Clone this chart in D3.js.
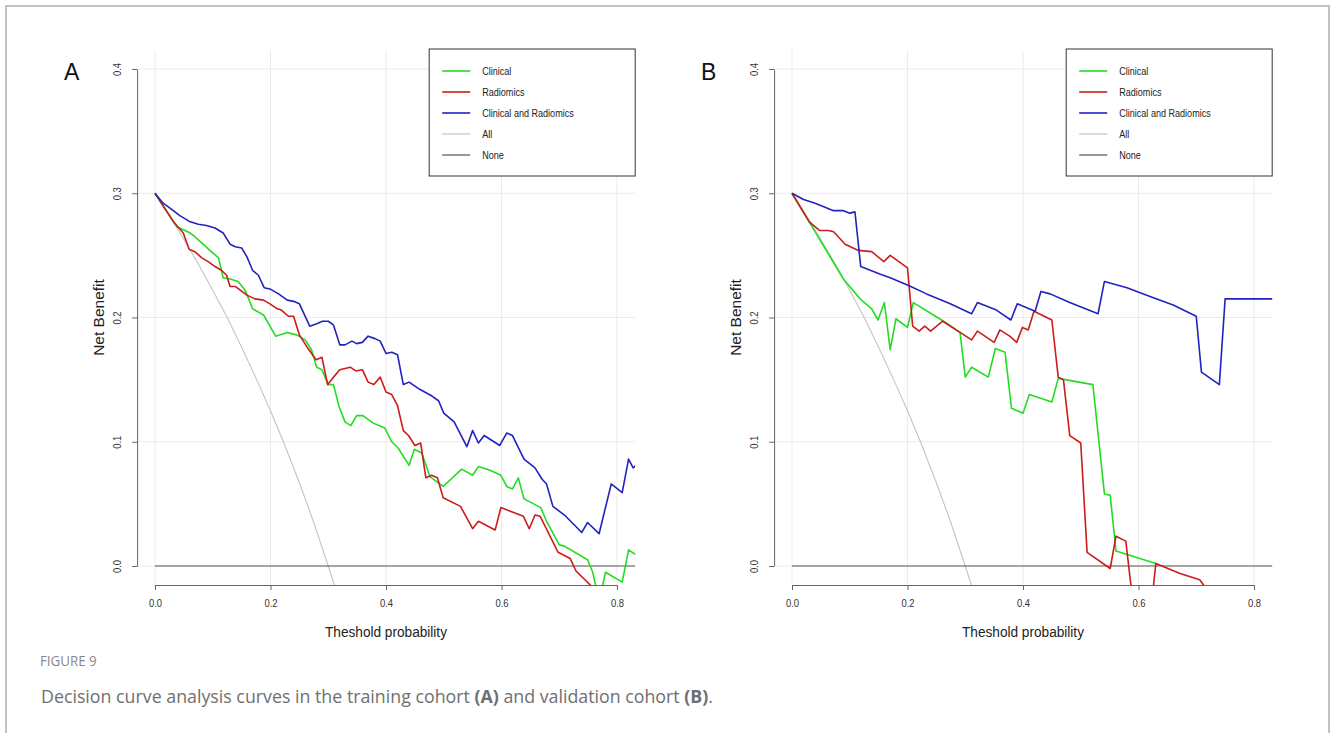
<!DOCTYPE html>
<html>
<head>
<meta charset="utf-8">
<script src="https://cdn.jsdelivr.net/npm/d3@7"></script>
<style>
  body { margin: 0; background: #fff; }
  svg { display: block; }
  .tick text { font-family: "Liberation Sans", Arial, sans-serif; }
</style>
</head>
<body>
<svg id="fig" width="1330" height="733"></svg>
<script>
// thresholds / net benefit, [threshold, net benefit]
var seriesNames = ["Clinical", "Radiomics", "Clinical and Radiomics", "All", "None"];
var xTicks = [0, 0.2, 0.4, 0.6, 0.8];
var yTicks = [0, 0.1, 0.2, 0.3, 0.4];

// training cohort (A)
var trainClinical = [[0,.300],[.038,.273],[.061,.268],[.069,.265],[.081,.260],[.095,.254],[.110,.248],[.118,.232],[.130,.231],[.144,.229],[.156,.222],[.169,.207],[.188,.202],[.199,.193],[.209,.185],[.229,.188],[.245,.186],[.260,.182],[.271,.174],[.280,.160],[.289,.158],[.300,.146],[.309,.146],[.319,.128],[.329,.116],[.339,.113],[.349,.121],[.360,.121],[.378,.115],[.398,.111],[.410,.100],[.421,.095],[.440,.081],[.449,.094],[.462,.091],[.476,.072],[.499,.064],[.531,.078],[.550,.073],[.560,.080],[.580,.077],[.599,.073],[.609,.064],[.619,.062],[.629,.071],[.639,.054],[.668,.047],[.677,.037],[.700,.017],[.709,.016],[.749,.005],[.758,-.005],[.765,-.020],[.773,-.020],[.780,-.005],[.809,-.013],[.820,.013],[.833,.009]];
var trainRadiomics = [[0,.300],[.032,.277],[.049,.268],[.059,.255],[.069,.253],[.081,.248],[.092,.245],[.104,.241],[.115,.238],[.124,.234],[.130,.225],[.139,.225],[.159,.218],[.173,.215],[.188,.214],[.199,.211],[.212,.207],[.219,.206],[.231,.201],[.240,.201],[.250,.186],[.265,.175],[.279,.166],[.289,.168],[.299,.146],[.309,.152],[.320,.158],[.338,.160],[.348,.157],[.359,.158],[.369,.148],[.379,.146],[.390,.152],[.400,.140],[.410,.138],[.420,.129],[.430,.109],[.439,.105],[.450,.097],[.460,.099],[.469,.071],[.479,.073],[.489,.071],[.499,.055],[.529,.048],[.550,.030],[.560,.036],[.589,.029],[.599,.047],[.638,.040],[.648,.030],[.658,.041],[.667,.040],[.698,.011],[.719,.006],[.729,-.004],[.764,-.020]];
var trainCombined = [[0,.300],[.014,.292],[.026,.288],[.043,.282],[.061,.277],[.075,.275],[.089,.274],[.104,.272],[.118,.268],[.130,.259],[.139,.257],[.150,.256],[.159,.249],[.169,.238],[.179,.234],[.189,.224],[.199,.223],[.214,.219],[.229,.214],[.240,.213],[.250,.211],[.268,.193],[.280,.195],[.290,.197],[.300,.197],[.309,.194],[.320,.178],[.329,.178],[.341,.181],[.349,.179],[.359,.180],[.369,.185],[.381,.183],[.390,.181],[.400,.171],[.410,.172],[.420,.170],[.430,.146],[.440,.148],[.459,.142],[.479,.137],[.491,.133],[.500,.123],[.518,.116],[.540,.096],[.550,.109],[.560,.099],[.570,.105],[.597,.097],[.609,.107],[.619,.105],[.639,.086],[.658,.079],[.670,.070],[.678,.066],[.689,.048],[.709,.041],[.739,.027],[.749,.035],[.769,.026],[.790,.066],[.809,.059],[.820,.086],[.828,.079],[.833,.081]];

// validation cohort (B)
var validClinical = [[0,.300],[.031,.276],[.089,.231],[.118,.215],[.138,.207],[.149,.198],[.160,.212],[.170,.174],[.180,.199],[.200,.192],[.210,.212],[.259,.198],[.291,.188],[.300,.152],[.311,.160],[.340,.152],[.352,.175],[.369,.172],[.380,.127],[.400,.123],[.411,.138],[.450,.132],[.461,.151],[.473,.150],[.521,.146],[.541,.058],[.551,.057],[.561,.012],[.630,.002]];
var validRadiomics = [[0,.300],[.030,.277],[.048,.270],[.063,.270],[.072,.269],[.092,.259],[.115,.254],[.138,.253],[.159,.245],[.170,.250],[.200,.240],[.209,.193],[.220,.189],[.230,.193],[.240,.189],[.261,.197],[.291,.188],[.311,.182],[.321,.189],[.350,.180],[.360,.190],[.377,.185],[.389,.180],[.399,.192],[.409,.190],[.419,.205],[.450,.198],[.461,.152],[.470,.150],[.481,.105],[.500,.099],[.511,.011],[.551,-.002],[.561,.024],[.578,.020],[.588,-.020],[.625,-.020],[.630,.002],[.672,-.006],[.706,-.011],[.720,-.020]];
var validCombined = [[0,.300],[.020,.295],[.040,.292],[.072,.286],[.089,.286],[.100,.284],[.109,.285],[.119,.241],[.152,.235],[.170,.232],[.201,.226],[.233,.219],[.274,.211],[.311,.203],[.321,.212],[.354,.206],[.379,.198],[.390,.211],[.421,.205],[.431,.221],[.447,.219],[.481,.212],[.530,.203],[.541,.229],[.580,.224],[.620,.217],[.660,.210],[.700,.201],[.709,.156],[.740,.146],[.750,.215],[.833,.215]];

// treat all / treat none (same prevalence in both cohorts)
var treatAll = [[0,.300],[.025,.282],[.05,.263],[.075,.243],[.10,.222],[.125,.200],[.15,.176],[.175,.151],[.20,.125],[.225,.097],[.25,.067],[.275,.035],[.30,.000],[.32,-.029]];
var treatNone = [[0,0],[.833,0]];

var colors = ["#22dd22", "#cc1c1c", "#2222c0", "#c4c4c4", "#555555"];

var svg = d3.select("#fig");

// page frame
svg.append("rect").attr("x", 6).attr("y", 6).attr("width", 1323).attr("height", 760)
  .attr("fill", "none").attr("stroke", "#c2c2c2").attr("stroke-width", 2);

// condensed text: R device font is narrower than what is installed
function narrowText(parent, x, y, anchor, size, str, rot) {
  return parent.append("text")
    .attr("transform", "translate(" + x + "," + y + ")" + (rot ? " rotate(-90)" : "") + " scale(0.88,1)")
    .attr("text-anchor", anchor).attr("font-size", size).attr("fill", "#222")
    .attr("font-family", "'Liberation Sans', Arial, sans-serif")
    .text(str);
}

function drawPanel(id, left, label, curves) {
  var x = d3.scaleLinear().domain([0, 0.8]).range([left, left + 462]);
  var y = d3.scaleLinear().domain([0, 0.4]).range([566, 69]);
  var x0 = x(-0.031), x1 = x(0.8315), yTop = y(0.415), yBot = y(-0.0153);

  var g = svg.append("g");

  // grid
  g.selectAll(".vg").data(xTicks).enter().append("line")
    .attr("x1", d => x(d)).attr("x2", d => x(d))
    .attr("y1", yTop).attr("y2", yBot)
    .attr("stroke", "#ebebeb").attr("stroke-width", 1);
  g.selectAll(".hg").data(yTicks).enter().append("line")
    .attr("x1", x0).attr("x2", x1)
    .attr("y1", d => y(d)).attr("y2", d => y(d))
    .attr("stroke", "#ebebeb").attr("stroke-width", 1);

  svg.append("clipPath").attr("id", "clip" + id).append("rect")
    .attr("x", x0).attr("y", yTop).attr("width", x1 - x0).attr("height", yBot - yTop);

  var line = d3.line().x(d => x(d[0])).y(d => y(d[1]));
  var plot = g.append("g").attr("clip-path", "url(#clip" + id + ")");
  var order = [3, 4, 0, 1, 2];
  order.forEach(function(i) {
    plot.append("path").datum(curves[i])
      .attr("d", line)
      .attr("fill", "none")
      .attr("stroke", colors[i])
      .attr("stroke-width", i < 3 ? 1.6 : 1.1)
      .attr("stroke-linejoin", "round");
  });

  // axes
  var xa = g.append("g").attr("transform", "translate(0," + yBot + ")")
    .call(d3.axisBottom(x).tickValues(xTicks).tickFormat(d3.format(".1f")).tickSize(5).tickSizeOuter(0));
  var ya = g.append("g").attr("transform", "translate(" + x0 + ",0)")
    .call(d3.axisLeft(y).tickValues(yTicks).tickFormat(d3.format(".1f")).tickSize(5).tickSizeOuter(0));
  [xa, ya].forEach(function(a) {
    a.select(".domain").attr("stroke", "#666");
    a.selectAll(".tick line").attr("stroke", "#666");
    a.selectAll(".tick text").attr("font-size", 10.5).attr("fill", "#333");
  });
  xa.selectAll(".tick text").attr("dy", "1.3em").attr("transform", "scale(0.9,1)")
    .attr("x", function() { return 0; });
  ya.selectAll(".tick text")
    .attr("x", null).attr("dy", null)
    .attr("text-anchor", "middle")
    .attr("transform", "translate(-16,0) rotate(-90) scale(0.9,1)");

  // axis titles
  narrowText(g, x(0.4), 637, "middle", 15.5, "Theshold probability", false);
  g.append("text").attr("transform", "translate(" + (x0 - 33) + "," + y(0.2) + ") rotate(-90)")
    .attr("text-anchor", "middle").attr("font-size", 15.5).attr("fill", "#222")
    .attr("font-family", "'Liberation Sans', sans-serif")
    .text("Net Benefit");

  // panel label
  g.append("text").attr("x", x0 - 73).attr("y", 80)
    .attr("font-size", 23).attr("fill", "#111")
    .attr("font-family", "'Liberation Sans', sans-serif")
    .text(label);

  // legend
  var lx = x1 - 206, ly = 49;
  var lg = g.append("g");
  lg.append("rect").attr("x", lx).attr("y", ly).attr("width", 206).attr("height", 127)
    .attr("fill", "#fff").attr("stroke", "#333").attr("stroke-width", 1);
  seriesNames.forEach(function(name, i) {
    var yy = ly + 22 + i * 21;
    lg.append("line").attr("x1", lx + 13).attr("x2", lx + 41).attr("y1", yy).attr("y2", yy)
      .attr("stroke", colors[i]).attr("stroke-width", i < 3 ? 1.6 : 1.2);
    narrowText(lg, lx + 53, yy + 3.5, "start", 10.3, name, false);
  });
}

drawPanel("A", 155, "A", [trainClinical, trainRadiomics, trainCombined, treatAll, treatNone]);
drawPanel("B", 792, "B", [validClinical, validRadiomics, validCombined, treatAll, treatNone]);

// caption
svg.append("text").attr("x", 40).attr("y", 666)
  .attr("font-family", "'Open Sans', sans-serif").attr("font-size", 14.5).attr("fill", "#888")
  .attr("transform", "translate(40,0) scale(0.92,1) translate(-40,0)")
  .text("FIGURE 9");
var cap = svg.append("text").attr("x", 41).attr("y", 703)
  .attr("font-family", "'Open Sans', sans-serif").attr("font-size", 17.8).attr("fill", "#6f6f6f");
cap.append("tspan").text("Decision curve analysis curves in the training cohort ");
cap.append("tspan").attr("font-weight", "bold").text("(A)");
cap.append("tspan").text(" and validation cohort ");
cap.append("tspan").attr("font-weight", "bold").text("(B)");
cap.append("tspan").text(".");
</script>
</body>
</html>
